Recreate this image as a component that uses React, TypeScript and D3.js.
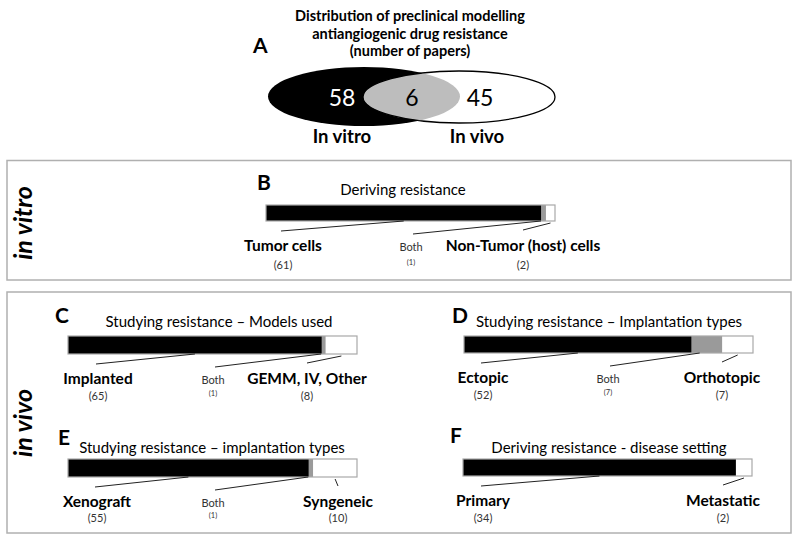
import * as d3 from 'd3';

// Panel A – Venn counts (only in vitro, both, only in vivo)
const vennTitle = ['Distribution of preclinical modelling', 'antiangiogenic drug resistance', '(number of papers)'];
const vennSets = ['In vitro', 'In vivo'];
const vennCounts = [58, 6, 45];

// Section labels of the boxes
const sectionLabels = ['in vitro', 'in vivo'];

// Panels B–F – stacked 100% bars
const panelIds = ['B', 'C', 'D', 'E', 'F'];
const panelTitles = [
  'Deriving resistance',
  'Studying resistance – Models used',
  'Studying resistance – Implantation types',
  'Studying resistance – implantation types',
  'Deriving resistance - disease setting',
];
const firstLabels = ['Tumor cells', 'Implanted', 'Ectopic', 'Xenograft', 'Primary'];
const firstValues = [61, 65, 52, 55, 34];
const bothValues = [1, 1, 7, 1, 0];
const lastLabels = ['Non-Tumor (host) cells', 'GEMM, IV, Other', 'Orthotopic', 'Syngeneic', 'Metastatic'];
const lastValues = [2, 8, 7, 10, 2];

const FONT = 'Lato, "Open Sans", sans-serif';
const BAR_W = 289;
const segColors = ['#000000', '#9a9a9a', '#ffffff'];

// positions only
const layout = [
  { x: 266, y: 205, h: 16, letterX: 257, letterDy: -15, titleX: 403, titleDy: -10, numDy: 48, labelX: [283, 411, 523] },
  { x: 68, y: 336, h: 18, letterX: 55, letterDy: -13, titleX: 219, titleDy: -9, numDy: 46, labelX: [98, 213, 307] },
  { x: 464, y: 336, h: 17, letterX: 452, letterDy: -13, titleX: 609, titleDy: -9, numDy: 46, labelX: [483, 608, 722] },
  { x: 68, y: 459, h: 18, letterX: 58, letterDy: -14, titleX: 212, titleDy: -6, numDy: 45, labelX: [97, 213, 338] },
  { x: 463, y: 459, h: 17, letterX: 450, letterDy: -16, titleX: 609, titleDy: -6, numDy: 46, labelX: [483, 608, 723] },
];

function BarPanel({ i }: { i: number }) {
  const L = layout[i];
  const vals = [firstValues[i], bothValues[i], lastValues[i]];
  const total = d3.sum(vals);
  const x = d3.scaleLinear().domain([0, total]).range([L.x, L.x + BAR_W]);
  const stack = d3.cumsum(vals);
  const starts = [0, stack[0], stack[1]];
  const bottom = L.y + L.h;

  // leader line anchors on the bar
  const anchors = vals.map((v, k) => x(starts[k] + v / 2));
  const lines = [
    { x1: anchors[0], y1: bottom, x2: L.labelX[0] - 2, y2: bottom + 10 },
    { x1: x(starts[1]) + Math.min(10, (x(stack[1]) - x(starts[1])) / 3) - 2, y1: bottom, x2: L.labelX[1] + 2, y2: bottom + 13 },
    { x1: anchors[2], y1: bottom + 2, x2: L.labelX[2], y2: bottom + 9 },
  ];

  return (
    <g>
      <text x={L.letterX} y={L.y + L.letterDy} fontSize={21} fontWeight={700}>{panelIds[i]}</text>
      <text x={L.titleX} y={L.y + L.titleDy} fontSize={15} textAnchor="middle" fill="#000">{panelTitles[i]}</text>
      {vals.map((v, k) =>
        v > 0 ? (
          <rect key={k} x={x(starts[k])} y={L.y} width={x(stack[k]) - x(starts[k])} height={L.h} fill={segColors[k]} />
        ) : null
      )}
      <rect x={L.x} y={L.y} width={BAR_W} height={L.h} fill="none" stroke="#a8a8a8" strokeWidth={1.2} />
      {lines.map((l, k) =>
        vals[k] > 0 ? <line key={k} {...l} stroke="#222" strokeWidth={1} /> : null
      )}
      <text x={L.labelX[0]} y={bottom + 30} fontSize={15.5} fontWeight={700} textAnchor="middle">{firstLabels[i]}</text>
      <text x={L.labelX[0]} y={bottom + L.numDy} fontSize={11} textAnchor="middle" fill="#333">({firstValues[i]})</text>
      {bothValues[i] > 0 && (
        <g>
          <text x={L.labelX[1]} y={bottom + 30} fontSize={11} textAnchor="middle" fill="#333">Both</text>
          <text x={L.labelX[1]} y={bottom + L.numDy - 4} fontSize={7.5} textAnchor="middle" fill="#333">({bothValues[i]})</text>
        </g>
      )}
      <text x={L.labelX[2]} y={bottom + 30} fontSize={15.5} fontWeight={700} textAnchor="middle">{lastLabels[i]}</text>
      <text x={L.labelX[2]} y={bottom + L.numDy} fontSize={11} textAnchor="middle" fill="#333">({lastValues[i]})</text>
    </g>
  );
}

export default function App() {
  return (
    <svg width={800} height={542} style={{ position: 'absolute', left: 0, top: 0, background: '#fff' }} fontFamily={FONT}>
      {/* Panel A */}
      {vennTitle.map((t, k) => (
        <text key={k} x={410} y={21 + k * 17.5} fontSize={14.5} fontWeight={700} textAnchor="middle">{t}</text>
      ))}
      <text x={253} y={53} fontSize={21} fontWeight={700}>A</text>
      <defs>
        <clipPath id="leftEll">
          <ellipse cx={364} cy={96.5} rx={96} ry={29.5} />
        </clipPath>
      </defs>
      <ellipse cx={364} cy={96.5} rx={96} ry={29.5} fill="#000" />
      <ellipse cx={459} cy={97} rx={96} ry={26} fill="#fff" stroke="#000" strokeWidth={1.3} />
      <ellipse cx={459} cy={97} rx={96} ry={26} fill="#bdbdbd" stroke="#000" strokeWidth={1.3} clipPath="url(#leftEll)" />
      <text x={342} y={106} fontSize={23} textAnchor="middle" fill="#fff">{vennCounts[0]}</text>
      <text x={412} y={106} fontSize={23} textAnchor="middle" fill="#000">{vennCounts[1]}</text>
      <text x={480} y={106} fontSize={23} textAnchor="middle" fill="#000">{vennCounts[2]}</text>
      <text x={342} y={143} fontSize={18.5} fontWeight={700} textAnchor="middle">{vennSets[0]}</text>
      <text x={477} y={143} fontSize={18.5} fontWeight={700} textAnchor="middle">{vennSets[1]}</text>

      {/* boxes */}
      <rect x={7} y={160.5} width={784} height={119.5} fill="none" stroke="#b0b0b0" strokeWidth={1.5} />
      <rect x={7} y={292} width={784} height={241} fill="none" stroke="#b0b0b0" strokeWidth={1.5} />
      <text transform="translate(32,223) rotate(-90)" fontSize={25} fontWeight={700} fontStyle="italic" textAnchor="middle">{sectionLabels[0]}</text>
      <text transform="translate(32,423) rotate(-90)" fontSize={25} fontWeight={700} fontStyle="italic" textAnchor="middle">{sectionLabels[1]}</text>

      {panelIds.map((_, i) => (
        <BarPanel key={i} i={i} />
      ))}
    </svg>
  );
}
